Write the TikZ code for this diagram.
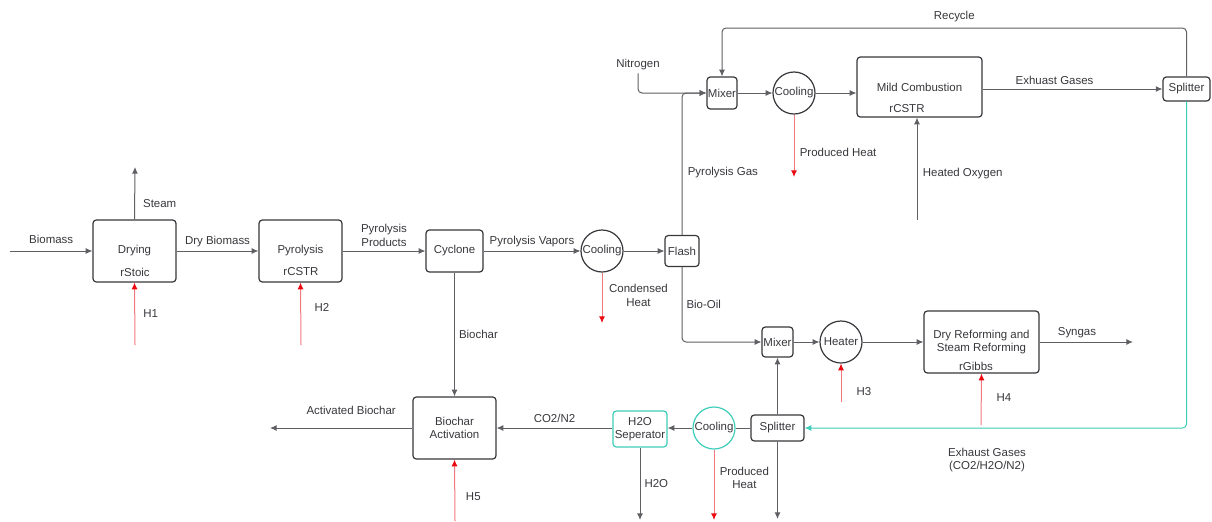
\documentclass[tikz,border=0pt]{standalone}
\usepackage{fontspec}
\setmainfont{Liberation Sans}
\usetikzlibrary{arrows.meta, positioning, calc}
\definecolor{linegray}{RGB}{95,95,100}
\definecolor{textgray}{RGB}{55,55,60}
\definecolor{heatred}{RGB}{242,120,125}
\definecolor{tipred}{RGB}{235,10,15}
\definecolor{tealcolor}{RGB}{62,205,185}

\begin{document}
\begin{tikzpicture}[x=0.75pt, y=-0.75pt,
    font=\fontsize{8.6}{10.2}\selectfont, text=textgray,
    unit/.style={draw=textgray, line width=0.9pt, rounded corners=2.5pt,
        align=center, inner sep=0pt},
    bigunit/.style={unit, minimum width=62.25pt, minimum height=46.5pt},
    hx/.style={circle, draw=textgray, line width=0.9pt, inner sep=0pt,
        minimum size=31.5pt},
    flow/.style={draw=linegray, line width=0.75pt,
        -{Latex[length=5pt, width=4.5pt]}},
    heat/.style={draw=heatred, line width=0.75pt,
        -{Latex[length=5pt, width=4.5pt, color=tipred]}},
    tealflow/.style={draw=tealcolor, line width=0.75pt,
        -{Latex[length=5pt, width=4.5pt]}},
    lbl/.style={inner sep=2pt, align=center}]
\useasboundingbox (0,0) rectangle (1212,521);

% units
\node[bigunit] (drying) at (134.5,251) {Drying};
\node[bigunit] (pyrolysis) at (300.5,251) {Pyrolysis};
\node[unit, minimum width=42.75pt, minimum height=31.5pt] (cyclone) at (454.5,251) {Cyclone};
\node[hx] (cool1) at (602,251) {Cooling};
\node[unit, minimum width=25.5pt, minimum height=23.25pt] (flash) at (682,251) {Flash};
\node[unit, minimum width=22.5pt, minimum height=24pt] (mixer1) at (722,93) {Mixer};
\node[hx] (cool2) at (794,93) {Cooling};
\node[unit, minimum width=93.75pt, minimum height=45pt] (mild) at (919.5,87) {Mild Combustion};
\node[unit, minimum width=35.25pt, minimum height=18pt] (split1) at (1186.5,89) {Splitter};
\node[unit, minimum width=23.25pt, minimum height=22.5pt] (mixer2) at (777.5,342) {Mixer};
\node[hx] (heater) at (841,342) {Heater};
\node[unit, minimum width=86.25pt, minimum height=46.5pt] (reform) at (981.5,342) {Dry Reforming and\\Steam Reforming};
\node[unit, minimum width=39.75pt, minimum height=19.5pt] (split2) at (777.5,428) {Splitter};
\node[hx, draw=tealcolor] (cool3) at (714,428) {Cooling};
\node[unit, draw=tealcolor, minimum width=40.5pt, minimum height=27pt] (sep) at (640,429) {H2O\\Seperator};
\node[bigunit] (activ) at (454.5,428) {Biochar\\Activation};

\node[lbl] (drytype) at (135,272) {rStoic};
\node[lbl] (pyrtype) at (301,272) {rCSTR};
\node[lbl] (mildtype) at (907,109) {rCSTR};
\node[lbl] (reftype) at (976,366) {rGibbs};

% free ends
\coordinate (biomassin) at (10,251);
\coordinate (steamout) at (135,167);
\coordinate (h1in) at (135,345);
\coordinate (h2in) at (301,345);
\coordinate (condout) at (602,323);
\coordinate (heat2out) at (794,177);
\coordinate (oxyin) at (917,220);
\coordinate (recyc) at (722,28);
\coordinate (syngasout) at (1133,342);
\coordinate (h3in) at (841,402);
\coordinate (h4in) at (981,425);
\coordinate (split2out) at (777.5,519);
\coordinate (heat3out) at (714,520);
\coordinate (waterout) at (640,520);
\coordinate (h5in) at (455,521);
\coordinate (activout) at (270,428);
\node[lbl] (nitro) at (638,65) {Nitrogen};

% main line
\draw[flow] (biomassin) -- node[lbl, above=3pt] {Biomass} (drying);
\draw[flow] (drying.north) -- node[lbl, right=4pt, pos=0.3] {Steam} (steamout);
\draw[heat] (h1in) -- node[lbl, right=4pt] {H1} (drying.south);
\draw[flow] (drying) -- node[lbl, above=1pt] {Dry Biomass} (pyrolysis);
\draw[heat] (h2in) -- node[lbl, right=8pt, pos=0.6] {H2} (pyrolysis.south);
\draw[flow] (pyrolysis) -- node[lbl, above=1pt] {Pyrolysis\\Products} (cyclone);
\draw[flow] (cyclone) -- node[lbl, above=1pt] {Pyrolysis Vapors} (cool1);
\draw[flow] (cool1) -- (flash);
\draw[heat] (cool1.south) -- node[lbl, right=3pt, pos=0.45] {Condensed\\Heat} (condout);

% gas side
\draw[flow, rounded corners=3pt] (flash.north) |- node[lbl, right=2pt, pos=0.22] {Pyrolysis Gas} (mixer1.west);
\draw[flow, rounded corners=3pt] (nitro.south) |- (mixer1.west);
\draw[flow] (mixer1) -- (cool2);
\draw[flow] (cool2) -- (cool2 -| mild.west);
\draw[heat] (cool2.south) -- node[lbl, right=2pt, pos=0.6] {Produced Heat} (heat2out);
\draw[flow] (oxyin) -- node[lbl, right=2pt, pos=0.45] {Heated Oxygen} (oxyin |- mild.south);
\draw[flow] (mild.east |- split1.west) -- node[lbl, above=1pt, pos=0.4] {Exhuast Gases} (split1.west);
\draw[flow, rounded corners=3pt] (split1.north) |- node[lbl, above=2pt, pos=0.75] {Recycle} (recyc) -- (mixer1.north);
\draw[tealflow, rounded corners=3pt] (split1.south) |- (split2.east);
\node[lbl] (exhlbl) at (987,460) {Exhaust Gases\\(CO2/H2O/N2)};

% oil side
\draw[flow, rounded corners=3pt] (flash.south) |- node[lbl, right=1pt, pos=0.25] {Bio-Oil} (mixer2.west);
\draw[flow] (mixer2) -- (heater);
\draw[flow] (heater) -- (reform);
\draw[heat] (h3in) -- (heater.south);
\node[lbl] (h3lbl) at (864,392) {H3};
\draw[heat] (h4in) -- (reform.south);
\node[lbl] (h4lbl) at (1004,398) {H4};
\draw[flow] (reform) -- node[lbl, above=1pt, pos=0.4] {Syngas} (syngasout);

% bottom line
\draw[flow] (split2.north) -- (mixer2.south);
\draw[flow] (split2.south) -- (split2out);
\draw[draw=linegray, line width=0.75pt] (split2.west) -- (cool3.east);
\draw[flow] (cool3.west) -- (sep.east |- cool3.west);
\draw[heat] (cool3.south) -- node[lbl, right=2pt, pos=0.4] {Produced\\Heat} (heat3out);
\draw[flow] (sep.south) -- node[lbl, right=1pt, pos=0.5] {H2O} (waterout);
\draw[flow] (sep.west |- activ.east) -- node[lbl, above=2pt] {CO2/N2} (activ.east);
\draw[flow] (cyclone.south) -- node[lbl, right=1pt] {Biochar} (activ.north);
\draw[heat] (h5in) -- node[lbl, right=6pt, pos=0.4] {H5} (activ.south);
\draw[flow] (activ.west) -- node[lbl, above=8pt, pos=0.43] {Activated Biochar} (activout);
\end{tikzpicture}
\end{document}
